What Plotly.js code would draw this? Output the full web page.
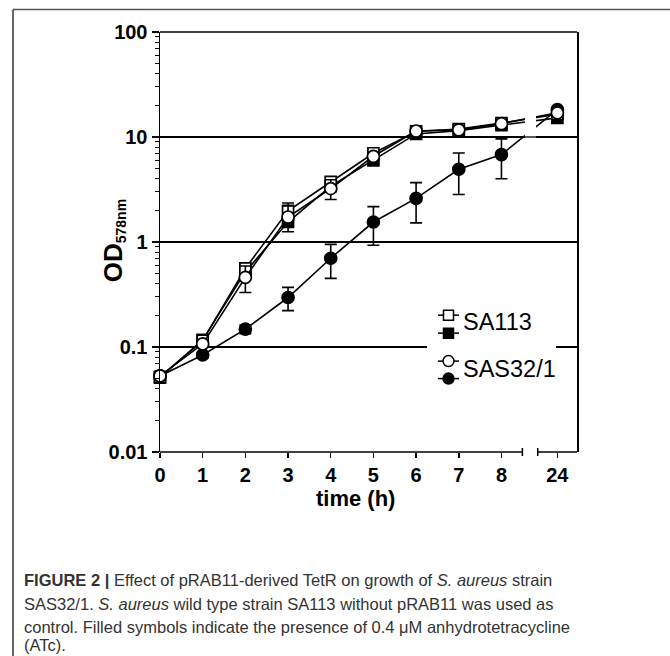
<!DOCTYPE html>
<html>
<head>
<meta charset="utf-8">
<script src="https://cdn.plot.ly/plotly-3.0.1.min.js"></script>
<style>
  html, body { margin: 0; padding: 0; background: #fff; }
  #chart { width: 670px; height: 656px; }
</style>
</head>
<body>
<div id="chart"></div>
<script>
// ---------- data ----------
const timeHours = [0, 1, 2, 3, 4, 5, 6, 7, 8, 24];
const timeLabels = ["0", "1", "2", "3", "4", "5", "6", "7", "8", "24"];

const sa113 = [0.052, 0.115, 0.56, 1.98, 3.73, 7.0, 11.3, 11.9, 13.6, 16.5];
const sa113Err = [0, 0, 0.05, 0.37, 0.40, 0.5, 0, 0, 0, 0];

const sa113Atc = [0.051, 0.117, 0.52, 1.55, 3.40, 6.0, 10.7, 11.5, 13.0, 15.2];
const sa113AtcErr = [0, 0, 0, 0, 0, 0, 0, 0, 0, 0];

const sas321 = [0.053, 0.107, 0.46, 1.73, 3.23, 6.55, 11.4, 11.7, 13.4, 17.0];
const sas321Err = [0, 0, 0.13, 0.48, 0.69, 0.5, 0, 0, 0, 0];

const sas321Atc = [0.053, 0.084, 0.148, 0.296, 0.70, 1.55, 2.6, 4.93, 6.8, 18.2];
const sas321AtcErr = [0.004, 0.005, 0.014, 0.074, 0.25, 0.62, 1.08, 2.1, 2.8, 0];

// ---------- broken x axis: hours 0..8 linear, 24 placed after the break ----------
const BREAK_LEFT = 8.49, BREAK_RIGHT = 8.85, POS_24 = 9.31, X_MAX = 9.77;
function axisPos(t) { return t > 8 ? POS_24 : t; }
const xPos = timeHours.map(axisPos);

// pixel -> paper helpers (plot area: x 160..577, y 31.5..452)
const L = 160, R = 577, T = 31.5, B = 452;
const px = p => (p - L) / (R - L);
const py = p => (B - p) / (B - T);

function series(y, err, symbol, fill, size, name) {
  return {
    x: xPos, y: y, name: name, type: 'scatter', mode: 'lines+markers',
    line: { color: 'black', width: 1.6 },
    marker: { symbol: symbol, size: size, color: fill, line: { color: 'black', width: 1.7 } },
    error_y: { type: 'data', array: err, visible: true, color: 'black', thickness: 1.6, width: 6 },
    showlegend: false, cliponaxis: false
  };
}

const traces = [
  series(sas321Atc, sas321AtcErr, 'circle', 'black', 12, 'SAS32/1 + ATc'),
  series(sa113Atc, sa113AtcErr, 'square', 'black', 11, 'SA113 + ATc'),
  series(sa113, sa113Err, 'square', 'white', 11, 'SA113'),
  series(sas321, sas321Err, 'circle', 'white', 12, 'SAS32/1')
];

// minor log ticks
const minorVals = [];
[0.01, 0.1, 1, 10].forEach(d => { for (let k = 2; k <= 9; k++) minorVals.push(d * k); });

const shapes = [];
// top frame line of the plot (at 100)
shapes.push({ type: 'line', xref: 'paper', yref: 'paper', x0: 0, x1: 1, y0: 1, y1: 1, line: { color: 'black', width: 1.5 } });
// gap in the series lines at the axis break
shapes.push({ type: 'rect', xref: 'x', yref: 'paper', x0: 8.55, x1: 8.81, y0: py(140), y1: py(100),
  fillcolor: 'white', line: { width: 0 }, layer: 'above' });
shapes.push({ type: 'line', xref: 'x', yref: 'paper', x0: 8.5, x1: 8.9, y0: 0.75, y1: 0.75,
  line: { color: 'black', width: 1.3 }, layer: 'above' });
// legend background hides the 0.1 gridline
shapes.push({ type: 'rect', xref: 'paper', yref: 'paper', x0: px(427), x1: px(556), y0: 0.24, y1: 0.26,
  fillcolor: 'white', line: { width: 0 }, layer: 'above' });
// broken bottom axis line with end caps
shapes.push({ type: 'line', xref: 'x', yref: 'paper', x0: 0, x1: BREAK_LEFT, y0: 0, y1: 0, line: { color: 'black', width: 1.5 } });
shapes.push({ type: 'line', xref: 'x', yref: 'paper', x0: BREAK_RIGHT, x1: X_MAX, y0: 0, y1: 0, line: { color: 'black', width: 1.5 } });
shapes.push({ type: 'line', xref: 'x', yref: 'paper', x0: BREAK_LEFT, x1: BREAK_LEFT, y0: py(456), y1: py(448), line: { color: 'black', width: 1.5 } });
shapes.push({ type: 'line', xref: 'x', yref: 'paper', x0: BREAK_RIGHT, x1: BREAK_RIGHT, y0: py(456), y1: py(448), line: { color: 'black', width: 1.5 } });

// legend symbols
function legendLine(cy) {
  shapes.push({ type: 'line', xref: 'paper', yref: 'paper', x0: px(438), x1: px(459), y0: py(cy), y1: py(cy),
    line: { color: 'black', width: 1.5 }, layer: 'above' });
}
function legendSquare(cy, fill) {
  legendLine(cy);
  shapes.push({ type: 'rect', xref: 'paper', yref: 'paper', x0: px(443.5), x1: px(453.5), y0: py(cy + 5), y1: py(cy - 5),
    fillcolor: fill, line: { color: 'black', width: 1.5 }, layer: 'above' });
}
function legendCircle(cy, fill) {
  legendLine(cy);
  shapes.push({ type: 'circle', xref: 'paper', yref: 'paper', x0: px(443), x1: px(454), y0: py(cy + 5.5), y1: py(cy - 5.5),
    fillcolor: fill, line: { color: 'black', width: 1.5 }, layer: 'above' });
}
legendSquare(315, 'white');
legendSquare(333, 'black');
legendCircle(361, 'white');
legendCircle(378.5, 'black');

// figure frame (top & left)
shapes.push({ type: 'line', xref: 'paper', yref: 'paper', x0: px(13), x1: px(675), y0: py(9), y1: py(9), line: { color: '#555', width: 1.5 } });
shapes.push({ type: 'line', xref: 'paper', yref: 'paper', x0: px(13), x1: px(13), y0: py(9), y1: py(665), line: { color: '#333', width: 1.5 } });

const FONT = 'Liberation Sans, Arial, sans-serif';
const capFont = { family: FONT, size: 16.5, color: '#333333' };
const annotations = [
  { text: 'SA113', xref: 'paper', yref: 'paper', x: px(461), y: py(322), xanchor: 'left', yanchor: 'middle',
    showarrow: false, font: { family: FONT, size: 23.5, color: 'black' } },
  { text: 'SAS32/1', xref: 'paper', yref: 'paper', x: px(461), y: py(369), xanchor: 'left', yanchor: 'middle',
    showarrow: false, font: { family: FONT, size: 23.5, color: 'black' } },
  { text: '<b>time (h)</b>', xref: 'paper', yref: 'paper', x: px(355), y: py(499), xanchor: 'center', yanchor: 'middle',
    showarrow: false, font: { family: FONT, size: 22, color: 'black' } },
  { text: '<b>OD<span style="font-size:20px"><sub>578nm</sub></span></b>', xref: 'paper', yref: 'paper', x: px(113), y: py(241), textangle: -90,
    xanchor: 'center', yanchor: 'middle', showarrow: false,
    font: { family: FONT, size: 26, color: 'black' } },
  { text: '<b>FIGURE 2 |</b> Effect of pRAB11-derived TetR on growth of <i>S. aureus</i> strain',
    xref: 'paper', yref: 'paper', x: px(22), y: py(580), xanchor: 'left', yanchor: 'middle', showarrow: false, font: capFont },
  { text: 'SAS32/1. <i>S. aureus</i> wild type strain SA113 without pRAB11 was used as',
    xref: 'paper', yref: 'paper', x: px(22), y: py(604), xanchor: 'left', yanchor: 'middle', showarrow: false, font: capFont },
  { text: 'control. Filled symbols indicate the presence of 0.4 \u03bcM anhydrotetracycline',
    xref: 'paper', yref: 'paper', x: px(22), y: py(627.5), xanchor: 'left', yanchor: 'middle', showarrow: false, font: capFont },
  { text: '(ATc).',
    xref: 'paper', yref: 'paper', x: px(22), y: py(645), xanchor: 'left', yanchor: 'middle', showarrow: false, font: capFont }
];

const tickFont = { family: FONT, size: 20, color: 'black', weight: 'bold' };

const layout = {
  width: 670, height: 656,
  margin: { l: L, r: 670 - R, t: T, b: 656 - B, pad: 0 },
  paper_bgcolor: 'white', plot_bgcolor: 'white',
  showlegend: false,
  xaxis: {
    range: [0, X_MAX], tickmode: 'array', tickvals: xPos, ticktext: timeLabels,
    ticks: 'outside', ticklen: 5, tickwidth: 1.5, tickcolor: 'black',
    showline: false, showgrid: false, zeroline: false, tickfont: tickFont, fixedrange: true
  },
  yaxis: {
    type: 'log', range: [-2, 2], tickmode: 'array',
    tickvals: [0.01, 0.1, 1, 10, 100], ticktext: ['0.01', '0.1', '1', '10', '100'],
    ticks: 'outside', ticklen: 7, tickwidth: 1.5, tickcolor: 'black',
    showline: true, mirror: true, linecolor: 'black', linewidth: 1.5,
    showgrid: true, gridcolor: 'black', gridwidth: 1.3, zeroline: false,
    tickfont: tickFont,
    minor: { tickmode: 'array', tickvals: minorVals, ticks: 'outside', ticklen: 4, tickwidth: 1, tickcolor: 'black', showgrid: false }
  },
  shapes: shapes,
  annotations: annotations
};

Plotly.newPlot('chart', traces, layout, { staticPlot: true, displayModeBar: false });
</script>
</body>
</html>
